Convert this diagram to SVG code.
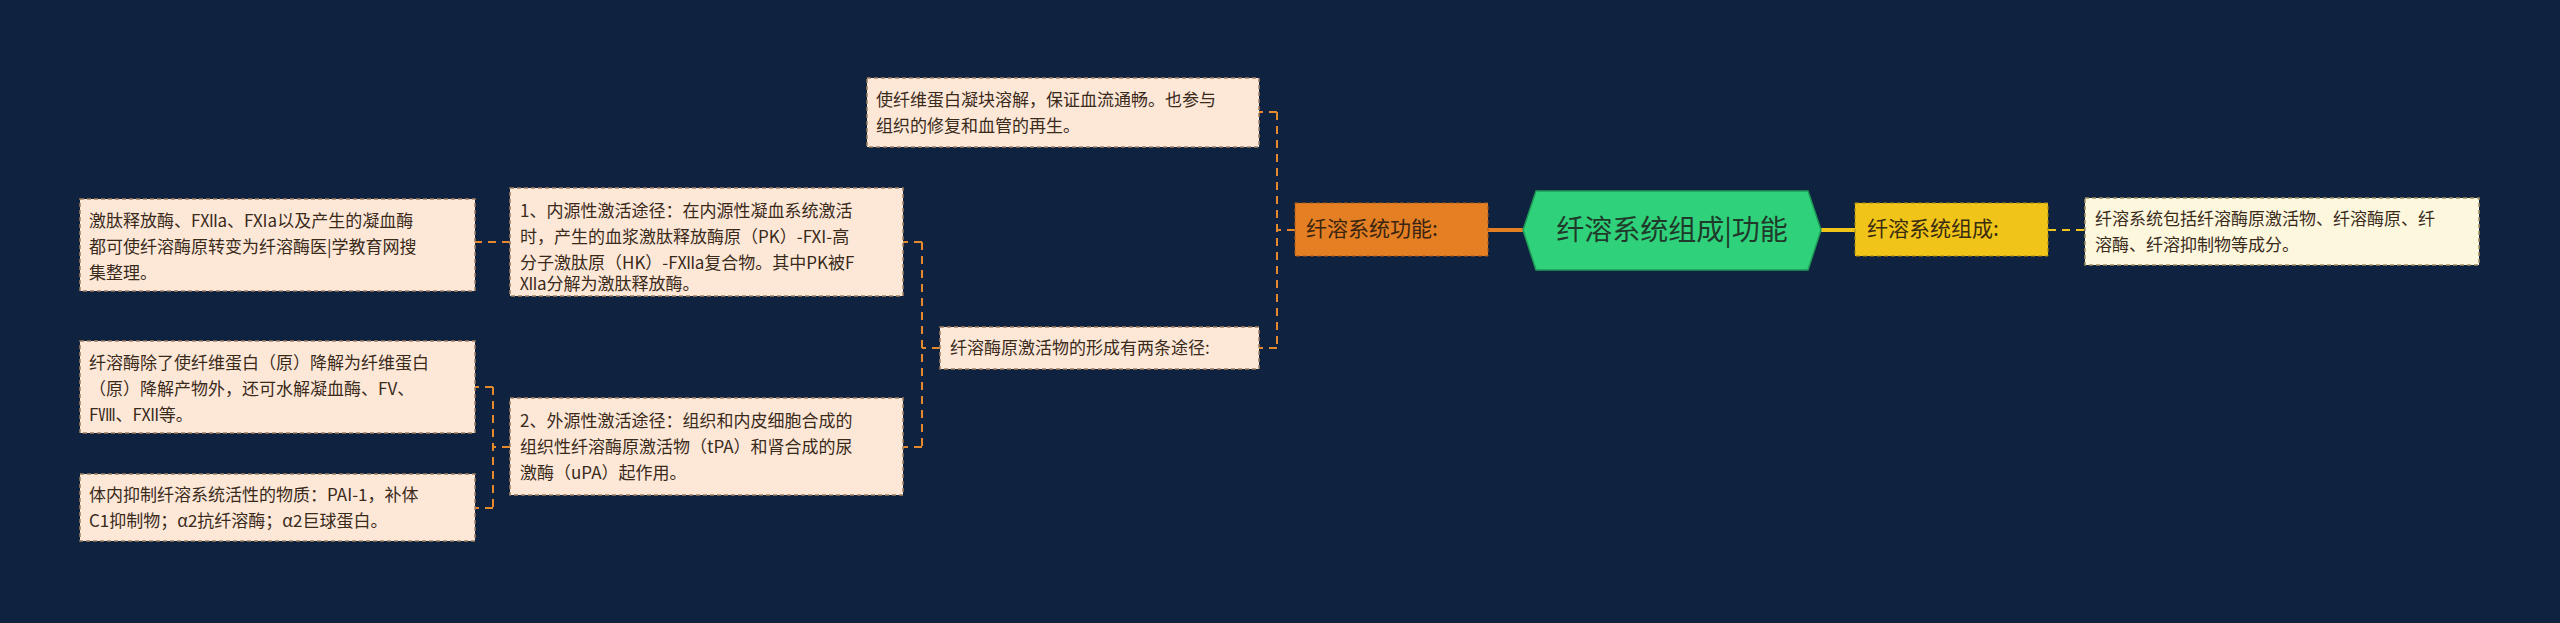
<svg xmlns="http://www.w3.org/2000/svg" width="2560" height="623" viewBox="0 0 2560 623">
<style>
.leaf{fill:#fde8d8;stroke:#a08060;stroke-width:1.5;stroke-dasharray:4 3}
.leaf2{fill:#fdf7de;stroke:#a09060;stroke-width:1.5;stroke-dasharray:4 3}
.t{font-family:"Noto Sans CJK SC","Liberation Sans",sans-serif;font-size:17px;fill:#3a2a1a}
.c{fill:none;stroke:#e48a2c;stroke-width:2;stroke-dasharray:8 6}
</style>
<rect width="2560" height="623" fill="#0f2340"/>
<g id="connectors">
<line x1="1488" y1="230" x2="1523" y2="230" stroke="#e47f24" stroke-width="4"/>
<line x1="1821" y1="230" x2="1855" y2="230" stroke="#f0c419" stroke-width="4"/>
<line class="c" x1="2048" y1="230" x2="2085" y2="230" stroke="#f0c419" style="stroke:#f0c419"/>
<path class="c" d="M1295 230 H1277 M1277 112 V348 M1277 112 H1259 M1277 348 H1259"/>
<path class="c" d="M940 348 H922 M922 242 V447 M922 242 H903 M922 447 H903"/>
<path class="c" d="M510 242 H475"/>
<path class="c" d="M510 447 H493 M493 387 V508 M493 387 H475 M493 508 H475"/>
</g>
<g id="root">
<polygon points="1536,191 1808,191 1821,230 1808,270 1536,270 1523,230" fill="#2fd27a" stroke="#1f9a58" stroke-width="1.5"/>
<text x="1672" y="240" text-anchor="middle" font-family="Noto Sans CJK SC,sans-serif" font-size="28" fill="#1f3a2a">纤溶系统组成|功能</text>
</g>
<g id="func">
<rect x="1295" y="203" width="193" height="53" fill="#e47f24" stroke="#a85a18" stroke-dasharray="4 3"/>
<text x="1306" y="236" class="t" style="font-size:21px;fill:#3a2410">纤溶系统功能:</text>
</g>
<g id="comp">
<rect x="1855" y="203" width="193" height="53" fill="#f0c419" stroke="#a88a10" stroke-dasharray="4 3"/>
<text x="1867" y="236" class="t" style="font-size:21px;fill:#3a2c10">纤溶系统组成:</text>
</g>
<g id="compleaf">
<rect class="leaf2" x="2085" y="198" width="394" height="67"/>
<text class="t" x="2095" y="225">纤溶系统包括纤溶酶原激活物、纤溶酶原、纤</text>
<text class="t" x="2095" y="251">溶酶、纤溶抑制物等成分。</text>
</g>
<g id="f1">
<rect class="leaf" x="867" y="78" width="392" height="69"/>
<text class="t" x="876" y="106">使纤维蛋白凝块溶解，保证血流通畅。也参与</text>
<text class="t" x="876" y="132">组织的修复和血管的再生。</text>
</g>
<g id="f2">
<rect class="leaf" x="940" y="327" width="319" height="42"/>
<text class="t" x="950" y="354">纤溶酶原激活物的形成有两条途径:</text>
</g>
<g id="p1">
<rect class="leaf" x="510" y="188" width="393" height="108"/>
<text class="t" x="520" y="217">1、内源性激活途径：在内源性凝血系统激活</text>
<text class="t" x="520" y="243">时，产生的血浆激肽释放酶原（PK）-FXI-高</text>
<text class="t" x="520" y="269">分子激肽原（HK）-FⅫa复合物。其中PK被F</text>
<text class="t" x="520" y="290">Ⅻa分解为激肽释放酶。</text>
</g>
<g id="p2">
<rect class="leaf" x="510" y="398" width="393" height="97"/>
<text class="t" x="520" y="427">2、外源性激活途径：组织和内皮细胞合成的</text>
<text class="t" x="520" y="453">组织性纤溶酶原激活物（tPA）和肾合成的尿</text>
<text class="t" x="520" y="479">激酶（uPA）起作用。</text>
</g>
<g id="l1">
<rect class="leaf" x="80" y="199" width="395" height="92"/>
<text class="t" x="89" y="227">激肽释放酶、FⅫa、FXIa以及产生的凝血酶</text>
<text class="t" x="89" y="253">都可使纤溶酶原转变为纤溶酶医|学教育网搜</text>
<text class="t" x="89" y="279">集整理。</text>
</g>
<g id="l2">
<rect class="leaf" x="80" y="341" width="395" height="92"/>
<text class="t" x="89" y="369">纤溶酶除了使纤维蛋白（原）降解为纤维蛋白</text>
<text class="t" x="89" y="395">（原）降解产物外，还可水解凝血酶、FV、</text>
<text class="t" x="89" y="421">FⅧ、FⅫ等。</text>
</g>
<g id="l3">
<rect class="leaf" x="80" y="474" width="395" height="67"/>
<text class="t" x="89" y="501">体内抑制纤溶系统活性的物质：PAI-1，补体</text>
<text class="t" x="89" y="527">C1抑制物；α2抗纤溶酶；α2巨球蛋白。</text>
</g>
</svg>
